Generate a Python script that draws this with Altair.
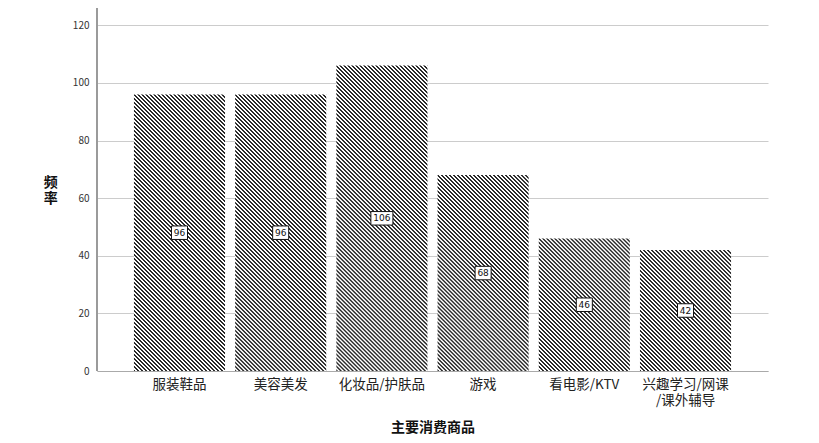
import math
import altair as alt
import pandas as pd

categories = ["服装鞋品", "美容美发", "化妆品/护肤品", "游戏", "看电影/KTV", "兴趣学习/网课/课外辅导"]
counts = [96, 96, 106, 68, 46, 42]

df = pd.DataFrame({"cat": categories, "n": counts})
df["mid"] = df["n"] / 2

W, H = 671, 363
YMAX = 126
PAD_IN, PAD_OUT = 0.1, 0.365
step = W / (len(categories) - PAD_IN + 2 * PAD_OUT)
bw = step * (1 - PAD_IN)
PERIOD = 4 / math.sqrt(2)
DARK = "#2a2a2a"
NOVIEW = alt.ViewBackground(stroke="transparent", strokeWidth=0)


def hatch(h):
    w = bw
    k = (w + h) / (w * w + h * h)
    L = (w + h) / math.sqrt(2)
    n = max(1, int(round(L / PERIOD)))
    stops = []
    for i in range(n):
        a = i / n
        d = 1 / n
        stops += [
            {"offset": a, "color": DARK},
            {"offset": a + 0.34 * d, "color": DARK},
            {"offset": a + 0.5 * d, "color": "#ffffff"},
            {"offset": a + 0.84 * d, "color": "#ffffff"},
            {"offset": a + d, "color": DARK},
        ]
    return {"gradient": "linear", "x1": 0, "y1": 1, "x2": k * w, "y2": 1 - k * h, "stops": stops}


x_axis = alt.Axis(
    title="主要消费商品",
    labelAngle=0,
    labelFontSize=13.5,
    labelColor="#222222",
    labelPadding=6,
    ticks=False,
    grid=False,
    domainColor="#aaaaaa",
    titleFontSize=14,
    titleFontWeight="bold",
    titleColor="#111111",
    titlePadding=14,
    labelExpr="datum.label == '兴趣学习/网课/课外辅导' ? ['兴趣学习/网课', '/课外辅导'] : datum.label",
    labelLineHeight=16,
)
x_scale = alt.Scale(domain=categories, paddingInner=PAD_IN, paddingOuter=PAD_OUT)
x_enc = alt.X("cat:N", sort=categories, scale=x_scale, axis=x_axis)

y_axis = alt.Axis(
    title=["频", "率"],
    titleAngle=0,
    titleFontSize=14,
    titleFontWeight="bold",
    titleColor="#111111",
    titlePadding=6,
    titleLineHeight=16,
    values=[0, 20, 40, 60, 80, 100, 120],
    labelFontSize=10,
    labelColor="#333333",
    labelPadding=8,
    ticks=False,
    domain=False,
    gridColor="#cccccc",
    grid=True,
)
y_scale = alt.Scale(domain=[0, YMAX], nice=False)
y_enc = alt.Y("n:Q", scale=y_scale, axis=y_axis)
y_mid = alt.Y("mid:Q", scale=y_scale, axis=y_axis)

base = alt.Chart(df).properties(view=NOVIEW)
layers = []
for c, v in zip(categories, counts):
    h = v / YMAX * H
    layers.append(
        base.transform_filter(alt.datum.cat == c)
        .mark_bar(fill=hatch(h), strokeWidth=0)
        .encode(x=x_enc, y=y_enc)
    )

# left axis line (y-axis domain)
axis_line = alt.Chart(df).mark_rule(color="#999999", strokeWidth=1).encode(
    x=alt.value(0), y=alt.value(0), y2=alt.value(H)
)

box2 = "M-1.07,-0.9L1.07,-0.9L1.07,0.9L-1.07,0.9Z"
box3 = "M-1.47,-0.9L1.47,-0.9L1.47,0.9L-1.47,0.9Z"
boxes = base.mark_point(filled=True, fill="white", stroke="#111111", strokeWidth=1, opacity=1, size=225).encode(
    x=x_enc,
    y=y_mid,
    shape=alt.condition(alt.datum.n >= 100, alt.value(box3), alt.value(box2)),
)
texts = base.mark_text(fontSize=9, color="#111111", font="DejaVu Sans").encode(
    x=x_enc,
    y=y_mid,
    text="n:Q",
)

chart = (
    alt.layer(*layers, axis_line, boxes, texts)
    .properties(width=W, height=H, padding={"left": 89, "top": 0, "right": 40, "bottom": 72},
                autosize=alt.AutoSizeParams(type="none"), view=NOVIEW)
    .configure_view(stroke="transparent", strokeWidth=0)
    .configure(font="Noto Sans CJK SC")
)

chart.save("out.html", embed_options={"renderer": "svg", "actions": False})
